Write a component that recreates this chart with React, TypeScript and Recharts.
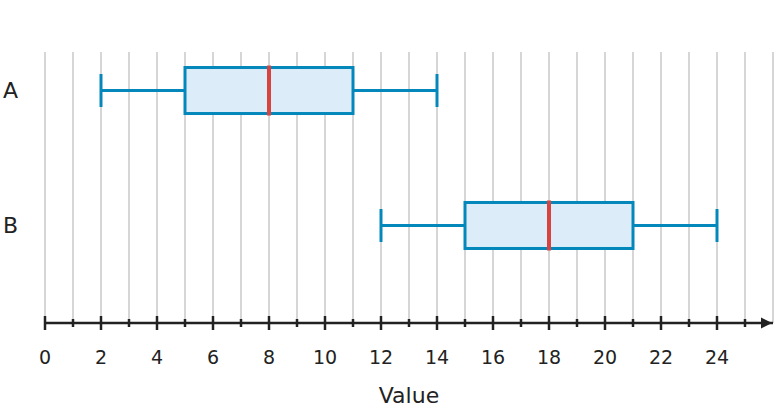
import React from 'react';
import { ComposedChart, Bar, XAxis, YAxis, CartesianGrid, ReferenceDot } from 'recharts';

const categories = ['A', 'B'];
const positions = [1, 2];
const mins = [2, 12];
const q1s = [5, 15];
const medians = [8, 18];
const q3s = [11, 21];
const maxs = [14, 24];
const xTicks = [0, 1, 2, 3, 4, 5, 6, 7, 8, 9, 10, 11, 12, 13, 14, 15, 16, 17, 18, 19, 20, 21, 22, 23, 24, 25, 26];
const xDomain = [0, 26];
const yDomain = [0.711, 2.719];

const data = categories.map((name, i) => ({
  name,
  pos: positions[i],
  min: mins[i],
  q1: q1s[i],
  median: medians[i],
  q3: q3s[i],
  max: maxs[i],
}));

const FONT = '"DejaVu Sans", sans-serif';
const BLUE = '#0487ba';
const FILL = '#dcedf9';
const RED = '#d84340';
const INK = '#222222';

const BoxShape = (props: any) => {
  const { x, y, width, height, payload } = props;
  if (!payload) return null;
  const { min, q1, median, q3, max } = payload;
  const px = (v: number) => x + ((v - min) / (max - min)) * width;
  const cy = y + height / 2;
  const cap = 16.5;
  return (
    <g>
      <line x1={px(min)} x2={px(q1)} y1={cy} y2={cy} stroke={BLUE} strokeWidth={3} />
      <line x1={px(q3)} x2={px(max)} y1={cy} y2={cy} stroke={BLUE} strokeWidth={3} />
      <line x1={px(min)} x2={px(min)} y1={cy - cap} y2={cy + cap} stroke={BLUE} strokeWidth={3} />
      <line x1={px(max)} x2={px(max)} y1={cy - cap} y2={cy + cap} stroke={BLUE} strokeWidth={3} />
      <rect x={px(q1)} y={y} width={px(q3) - px(q1)} height={height} fill={FILL} stroke={BLUE} strokeWidth={3} />
      <line x1={px(median)} x2={px(median)} y1={y - 2} y2={y + height + 2} stroke={RED} strokeWidth={4} />
    </g>
  );
};

const XTick = (props: any) => {
  const { x, y, payload } = props;
  const v = payload.value;
  if (v >= 26) return null;
  const major = v % 2 === 0;
  const len = major ? 7 : 4;
  return (
    <g>
      <line x1={x} x2={x} y1={y - len} y2={y + len} stroke={INK} strokeWidth={2.5} />
      {major && (
        <text x={x} y={y + 41} textAnchor="middle" fontSize={19} fontFamily={FONT} fill={INK}>
          {v}
        </text>
      )}
    </g>
  );
};

const YTick = (props: any) => {
  const { y, payload } = props;
  const idx = positions.indexOf(payload.value);
  return (
    <text x={3} y={y + 7} textAnchor="start" fontSize={22} fontFamily={FONT} fill={INK}>
      {idx >= 0 ? categories[idx] : ''}
    </text>
  );
};

const Arrow = (props: any) => {
  const { cx, cy } = props;
  return <polygon points={`${cx - 1},${cy} ${cx - 12},${cy - 5.5} ${cx - 12},${cy + 5.5}`} fill={INK} />;
};

export default function App() {
  return (
    <div style={{ position: 'absolute', left: 0, top: 0, width: 777, height: 412, background: '#fff' }}>
      <ComposedChart
        width={777}
        height={412}
        data={data}
        layout="vertical"
        margin={{ top: 52, right: 4, bottom: 0, left: 0 }}
      >
        <CartesianGrid horizontal={false} stroke="#d6d6d6" strokeWidth={2} />
        <XAxis
          type="number"
          dataKey="max"
          domain={xDomain}
          ticks={xTicks}
          interval={0}
          allowDataOverflow
          height={89}
          tickSize={0}
          tickMargin={0}
          tickLine={false}
          axisLine={{ stroke: INK, strokeWidth: 2.5 }}
          tick={<XTick />}
          label={{ value: 'Value', position: 'insideBottom', offset: 9, fontSize: 22, fontFamily: FONT, fill: INK }}
        />
        <YAxis
          type="number"
          dataKey="pos"
          domain={yDomain}
          ticks={positions}
          allowDataOverflow
          width={45}
          axisLine={false}
          tickLine={false}
          tick={<YTick />}
        />
        <Bar
          dataKey={(d: any) => [d.min, d.max]}
          barSize={46}
          shape={<BoxShape />}
          isAnimationActive={false}
        />
        <ReferenceDot x={26} y={yDomain[1]} ifOverflow="visible" shape={<Arrow />} />
      </ComposedChart>
    </div>
  );
}
